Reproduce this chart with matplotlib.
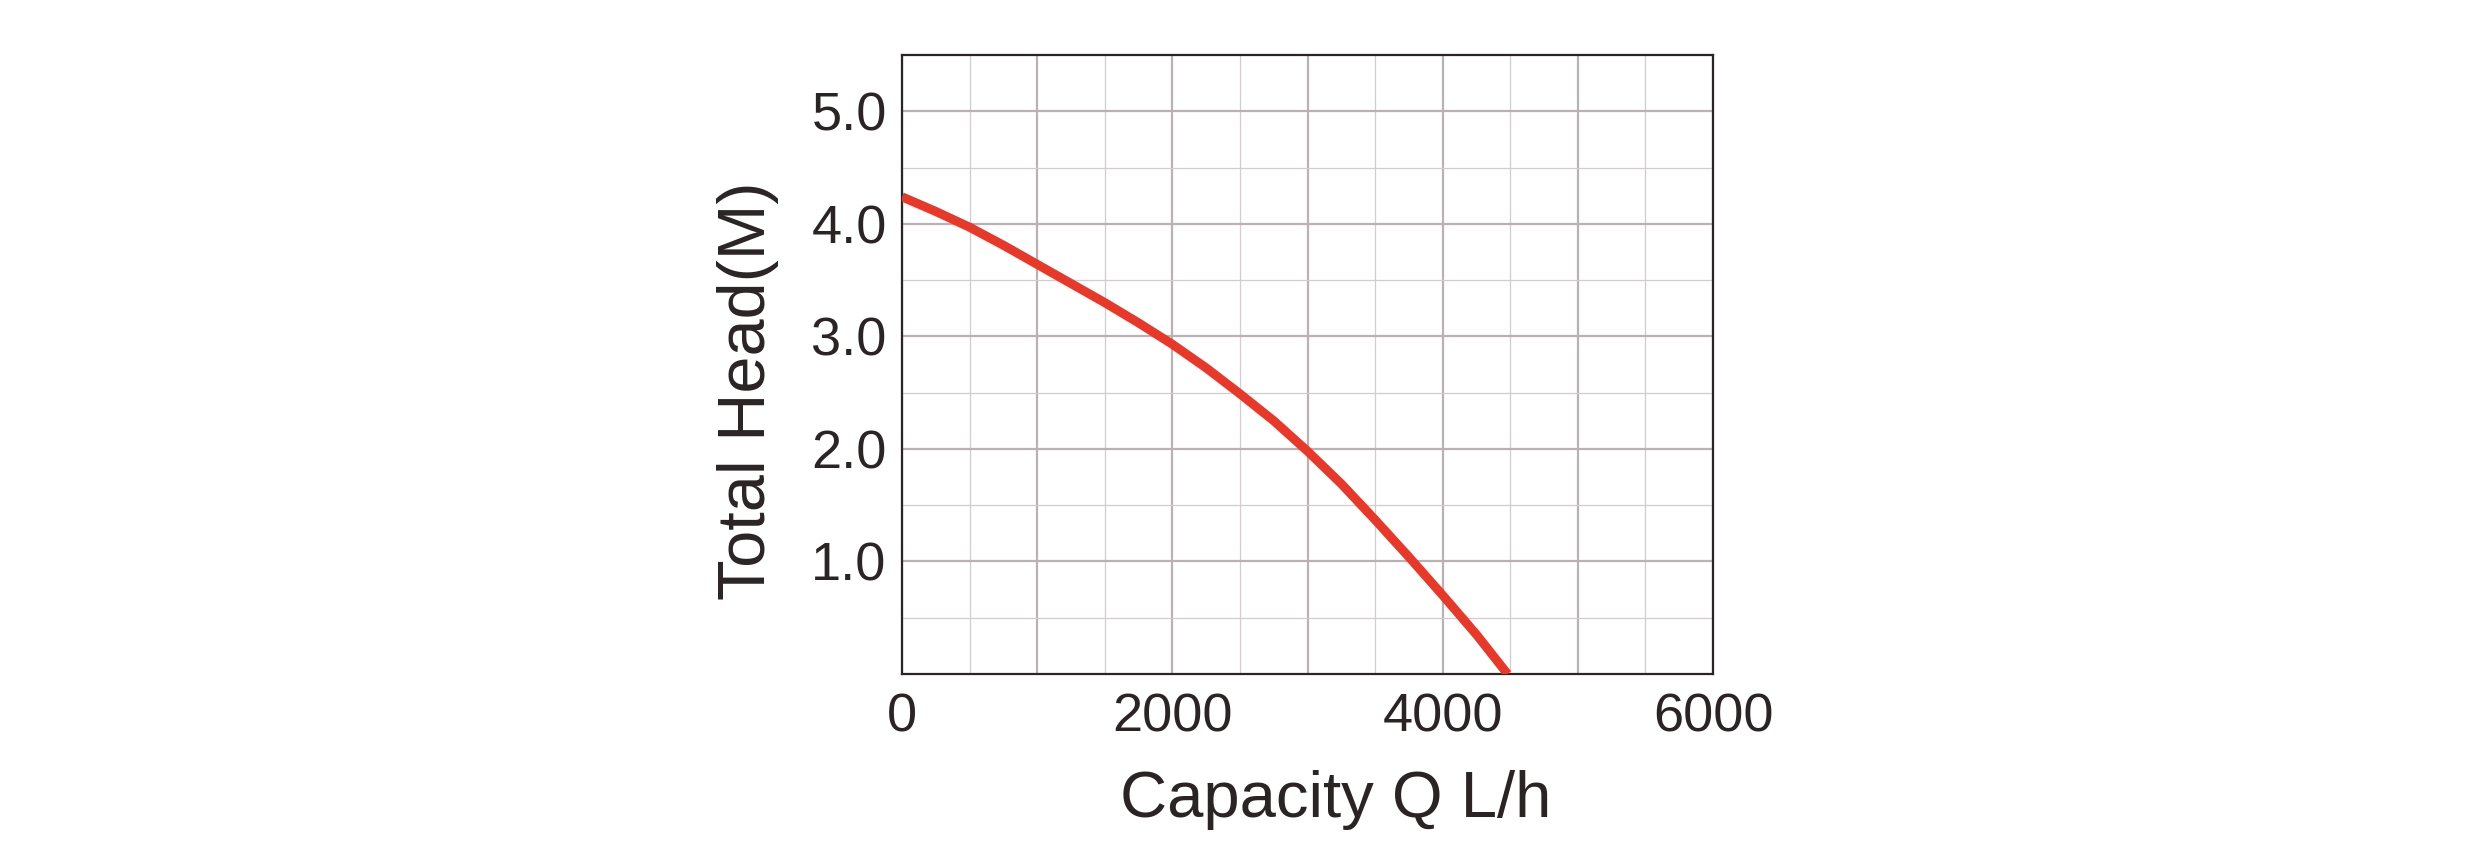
import matplotlib
matplotlib.use("Agg")
import matplotlib.pyplot as plt

# pump curve (L/h vs metres)
flow_lph = [0, 250, 500, 750, 1000, 1250, 1500, 1750, 2000, 2250, 2500,
            2750, 3000, 3250, 3500, 3750, 4000, 4250, 4480]
head_m = [4.24, 4.11, 3.97, 3.81, 3.64, 3.47, 3.30, 3.12, 2.93, 2.72, 2.49,
          2.25, 1.98, 1.69, 1.37, 1.04, 0.70, 0.35, 0.0]

x_major = [0, 1000, 2000, 3000, 4000, 5000, 6000]
x_labels = ["0", "", "2000", "", "4000", "", "6000"]
x_minor = [500, 1500, 2500, 3500, 4500, 5500]
y_major = [1, 2, 3, 4, 5]
y_labels = ["1.0", "2.0", "3.0", "4.0", "5.0"]
y_minor = [0.5, 1.5, 2.5, 3.5, 4.5]

INK = "#2b2425"
RED = "#e8382a"

plt.rcParams["font.family"] = ["Liberation Sans", "DejaVu Sans"]

fig = plt.figure(figsize=(24.82, 8.61), dpi=100)
ax = fig.add_axes([902 / 2482, 1 - 674 / 861, 811 / 2482, 619 / 861])

ax.plot(flow_lph, head_m, color=RED, lw=6.5, solid_capstyle="butt",
        solid_joinstyle="round", zorder=3)

ax.set_xlim(0, 6000)
ax.set_ylim(0, 5.5)
ax.set_xticks(x_major)
ax.set_xticklabels(x_labels)
ax.set_xticks(x_minor, minor=True)
ax.set_yticks(y_major)
ax.set_yticklabels(y_labels)
ax.set_yticks(y_minor, minor=True)

ax.set_axisbelow(True)
ax.grid(which="major", color="#b9b1b3", lw=1.6)
ax.grid(which="minor", color="#d3cccf", lw=0.9)

ax.tick_params(which="both", length=0)
ax.tick_params(axis="x", pad=13, labelsize=39, labelcolor=INK)
ax.tick_params(axis="y", pad=11, labelsize=39, labelcolor=INK)

for sp in ax.spines.values():
    sp.set_color(INK)
    sp.set_linewidth(1.6)

ax.set_xlabel("Capacity Q L/h", fontsize=47, color=INK)
ax.xaxis.set_label_coords(0.5347, -0.155)
ax.set_ylabel("Total Head(M)", fontsize=48, color=INK)
ax.yaxis.set_label_coords(-0.152, 0.457)

fig.savefig("out.png", dpi=100)
